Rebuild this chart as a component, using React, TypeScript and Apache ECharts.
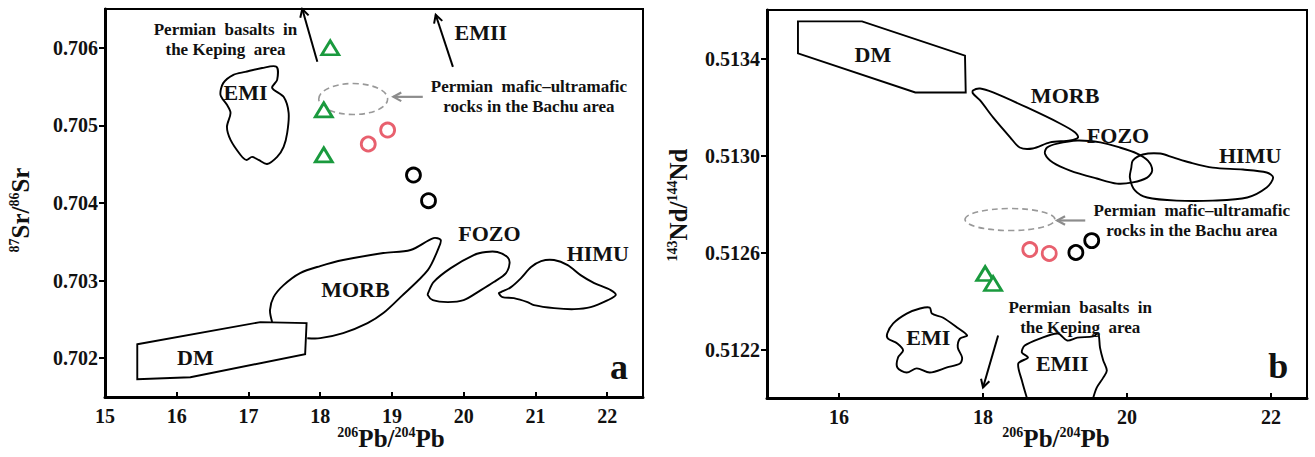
import { useEffect, useRef } from "react";
import * as echarts from "echarts";

const FONT = "'Liberation Serif', 'Times New Roman', serif";

// ---------- axes ----------
const xTicksA = [15, 16, 17, 18, 19, 20, 21, 22];
const yTicksA = [0.702, 0.703, 0.704, 0.705, 0.706];
const xTicksB = [16, 18, 20, 22];
const yTicksB = [0.5122, 0.5126, 0.513, 0.5134];

// ---------- samples (panel a: 206Pb/204Pb vs 87Sr/86Sr) ----------
const kepingA = [[18.14, 0.706], [18.05, 0.7052], [18.05, 0.70462]];
const bachuRedA = [[18.67, 0.70476], [18.94, 0.70494]];
const bachuBlackA = [[19.3, 0.70436], [19.51, 0.70403]];

// ---------- samples (panel b: 206Pb/204Pb vs 143Nd/144Nd) ----------
const kepingB = [[18.03, 0.512513], [18.14, 0.512472]];
const bachuRedB = [[18.65, 0.512612], [18.92, 0.512596]];
const bachuBlackB = [[19.29, 0.5126], [19.51, 0.512649]];

// ---------- mantle end-member fields, panel a ----------
const emiA = [[16.955, 0.70569], [17.19, 0.70574], [17.39, 0.705755], [17.4, 0.705587], [17.33, 0.705484], [17.49, 0.705368], [17.56, 0.705161], [17.54, 0.704903], [17.49, 0.704723], [17.4, 0.704594], [17.26, 0.704503], [17.14, 0.704555], [17.05, 0.704594], [16.97, 0.704555], [16.89, 0.704619], [16.75, 0.704813], [16.7, 0.704981], [16.75, 0.705161], [16.7, 0.705265], [16.61, 0.705394], [16.65, 0.705548], [16.79, 0.705652]];
const dmA = [[15.45, 0.70218], [17.165, 0.702465], [17.81, 0.702452], [17.79, 0.702052], [16.19, 0.701755], [15.45, 0.70173]];
const morbA = [[17.33, 0.702465], [17.3, 0.702619], [17.35, 0.702787], [17.49, 0.702942], [17.72, 0.703097], [18.0, 0.703187], [18.32, 0.703265], [18.88, 0.703355], [19.26, 0.703394], [19.58, 0.703548], [19.68, 0.703523], [19.65, 0.703419], [19.5, 0.703135], [19.12, 0.702787], [18.88, 0.702581], [18.66, 0.702452], [18.32, 0.702323], [18.0, 0.702258], [17.82, 0.702258]];
const fozoA = [[19.51, 0.702852], [19.58, 0.702981], [19.82, 0.703161], [20.14, 0.703329], [20.31, 0.703368], [20.47, 0.703368], [20.61, 0.703303], [20.64, 0.703226], [20.59, 0.703097], [20.42, 0.702981], [20.24, 0.702877], [20.0, 0.702748], [19.78, 0.702723], [19.57, 0.702748], [19.5, 0.702813]];
const himuA = [[20.52, 0.702852], [20.66, 0.702916], [20.8, 0.703032], [20.94, 0.703174], [21.08, 0.703252], [21.26, 0.703265], [21.45, 0.7032], [21.63, 0.703071], [21.82, 0.702968], [22.05, 0.702877], [22.12, 0.702813], [22.01, 0.702748], [21.77, 0.702658], [21.54, 0.702632], [21.26, 0.702645], [20.98, 0.702684], [20.89, 0.702723], [20.7, 0.702774], [20.54, 0.702787], [20.49, 0.702839]];

// ---------- mantle end-member fields, panel b ----------
const dmB = [[15.43, 0.513553], [16.32, 0.513553], [17.75, 0.513412], [17.76, 0.51326], [17.06, 0.51326], [15.43, 0.513421]];
const morbB = [[17.86, 0.513268], [17.96, 0.513276], [18.14, 0.51326], [18.61, 0.513198], [19.07, 0.513132], [19.28, 0.513095], [19.32, 0.513074], [19.21, 0.513062], [18.93, 0.513054], [18.69, 0.513029], [18.51, 0.513033], [18.38, 0.513074], [18.14, 0.513157], [17.96, 0.513227], [17.86, 0.513256]];
const fozoB = [[18.89, 0.513033], [19.03, 0.513049], [19.31, 0.513062], [19.63, 0.513054], [19.9, 0.513033], [20.14, 0.513008], [20.29, 0.512979], [20.35, 0.512938], [20.28, 0.512909], [20.08, 0.512889], [19.86, 0.512884], [19.58, 0.512905], [19.21, 0.512938], [18.97, 0.512971], [18.86, 0.513008]];
const himuB = [[20.08, 0.512979], [20.22, 0.513004], [20.46, 0.513008], [20.64, 0.512992], [20.875, 0.512971], [21.19, 0.51295], [21.61, 0.512942], [21.94, 0.51293], [22.03, 0.512909], [21.94, 0.512868], [21.67, 0.512827], [21.19, 0.512814], [20.69, 0.512814], [20.28, 0.512827], [20.11, 0.512856], [20.04, 0.512909], [20.06, 0.51295]];
const emiB = [[16.67, 0.512266], [16.75, 0.512307], [16.94, 0.512348], [17.125, 0.512369], [17.26, 0.512373], [17.29, 0.512348], [17.44, 0.512332], [17.64, 0.512291], [17.78, 0.512258], [17.68, 0.512245], [17.65, 0.512208], [17.71, 0.512167], [17.68, 0.512142], [17.5, 0.512126], [17.26, 0.512105], [17.08, 0.512122], [16.94, 0.512105], [16.81, 0.512126], [16.82, 0.512167], [16.89, 0.512196], [16.81, 0.512225], [16.68, 0.512245]];
const emiiB = [[18.61, 0.512], [18.54, 0.512072], [18.49, 0.512142], [18.625, 0.512167], [18.54, 0.512188], [18.58, 0.512216], [18.79, 0.512245], [19.04, 0.512266], [19.17, 0.512237], [19.31, 0.512249], [19.53, 0.512254], [19.6, 0.512266], [19.625, 0.512208], [19.67, 0.512155], [19.72, 0.512113], [19.67, 0.512084], [19.58, 0.512043], [19.53, 0.512]];

// Bachu mafic-ultramafic field (cx, cy, rx, ry)
const bachuEllipseA = [18.46, 0.70534, 0.48, 0.0002];
const bachuEllipseB = [18.375, 0.512736, 0.625, 0.0000454];

// arrows (x1, y1 tail, x2, y2 tip)
const arrowsA = [[17.96, 0.70582, 17.75, 0.7065], [19.85, 0.705755, 19.61, 0.706426]];
const grayArrowA = [[19.43, 0.705368, 19.02, 0.705368]];
const arrowsB = [[18.21, 0.512258, 18.0, 0.512043]];
const grayArrowB = [[19.42, 0.512732, 19.03, 0.512732]];

// field labels
const fieldLabelsA: [string, number, number][] = [["EMI", 16.96, 0.70543], ["DM", 16.26, 0.70201], ["MORB", 18.49, 0.70288], ["FOZO", 20.36, 0.70361], ["HIMU", 21.87, 0.703355], ["EMII", 20.24, 0.706194]];
const fieldLabelsB: [string, number, number][] = [["DM", 16.47, 0.513416], ["MORB", 19.14, 0.513247], ["FOZO", 19.875, 0.513082], ["HIMU", 21.71, 0.513], ["EMI", 17.24, 0.512249], ["EMII", 19.1, 0.512142]];
const notesA: [string, number, number][] = [["Permian  basalts  in\nthe Keping  area", 16.68, 0.706103], ["Permian  mafic\u2013ultramafic\nrocks in the Bachu area", 20.91, 0.705368]];
const notesB: [string, number, number][] = [["Permian  mafic\u2013ultramafic\nrocks in the Bachu area", 20.9, 0.512732], ["Permian  basalts  in\nthe Keping  area", 19.35, 0.512332]];
const panelTags: [string, number, number][] = [["a", 22.165, 0.701884], ["b", 22.1, 0.512134]];

function fieldSeries(pts: number[][], g: number, closed: boolean, smooth: number) {
  return {
    type: "custom",
    xAxisIndex: g,
    yAxisIndex: g,
    silent: true,
    clip: true,
    data: [pts[0]],
    renderItem: (_p: any, api: any) => {
      const points = pts.map((p) => api.coord(p));
      return {
        type: closed ? "polygon" : "polyline",
        shape: { points, smooth },
        style: { fill: "none", stroke: "#000", lineWidth: 1.9 },
      };
    },
  };
}

function ellipseSeries(e: number[], g: number) {
  return {
    type: "custom",
    xAxisIndex: g,
    yAxisIndex: g,
    silent: true,
    data: [[e[0], e[1]]],
    renderItem: (_p: any, api: any) => {
      const c = api.coord([e[0], e[1]]);
      const s = api.size([e[2], e[3]]);
      return {
        type: "ellipse",
        shape: { cx: c[0], cy: c[1], rx: s[0], ry: s[1] },
        style: { fill: "none", stroke: "#999", lineWidth: 1.6, lineDash: [6, 4] },
      };
    },
  };
}

function arrowSeries(arr: number[][], g: number, color: string, width: number) {
  return {
    type: "custom",
    xAxisIndex: g,
    yAxisIndex: g,
    silent: true,
    clip: false,
    data: arr.map((a) => [a[0], a[1]]),
    renderItem: (p: any, api: any) => {
      const a = arr[p.dataIndex];
      const t = api.coord([a[0], a[1]]);
      const h = api.coord([a[2], a[3]]);
      const ang = Math.atan2(h[1] - t[1], h[0] - t[0]);
      const L = 9;
      const w = 0.5;
      const p1 = [h[0] - L * Math.cos(ang - w), h[1] - L * Math.sin(ang - w)];
      const p2 = [h[0] - L * Math.cos(ang + w), h[1] - L * Math.sin(ang + w)];
      return {
        type: "group",
        children: [
          { type: "line", shape: { x1: t[0], y1: t[1], x2: h[0], y2: h[1] }, style: { stroke: color, lineWidth: width } },
          { type: "polyline", shape: { points: [p1, h, p2] }, style: { fill: "none", stroke: color, lineWidth: width } },
        ],
      };
    },
  };
}

function textSeries(items: [string, number, number][], g: number, size: number, lineHeight: number) {
  return {
    type: "custom",
    xAxisIndex: g,
    yAxisIndex: g,
    silent: true,
    clip: false,
    data: items.map((t) => [t[1], t[2]]),
    renderItem: (p: any, api: any) => {
      const it = items[p.dataIndex];
      const c = api.coord([it[1], it[2]]);
      return {
        type: "text",
        x: c[0],
        y: c[1],
        style: {
          text: it[0],
          fill: "#111",
          fontFamily: FONT,
          fontWeight: "bold",
          fontSize: size,
          lineHeight,
          align: "center",
          verticalAlign: "middle",
        },
      };
    },
  };
}

function scatter(data: number[][], g: number, symbol: string, color: string, size: any) {
  return {
    type: "scatter",
    xAxisIndex: g,
    yAxisIndex: g,
    symbol,
    symbolSize: size,
    data,
    z: 5,
    itemStyle: { color: "#fff", borderColor: color, borderWidth: 2.8, opacity: 1 },
  };
}

const labelStyle = { color: "#111", fontFamily: FONT, fontWeight: "bold", fontSize: 20 };

function xAxis(g: number, ticks: number[]) {
  return {
    gridIndex: g,
    type: "value",
    min: 15,
    max: 22.5,
    splitLine: { show: false },
    axisLine: { show: true, onZero: false, lineStyle: { color: "#000", width: 3 } },
    axisTick: { show: true, inside: true, length: 5, lineStyle: { color: "#000", width: 2 }, customValues: ticks },
    axisLabel: { ...labelStyle, margin: 9, customValues: ticks, formatter: (v: number) => String(v) },
  };
}

function yAxis(g: number, min: number, max: number, ticks: number[], digits: number) {
  return {
    gridIndex: g,
    type: "value",
    min,
    max,
    splitLine: { show: false },
    axisLine: { show: true, onZero: false, lineStyle: { color: "#000", width: 3 } },
    axisTick: { show: true, inside: false, length: 6, lineStyle: { color: "#000", width: 2 }, customValues: ticks },
    axisLabel: { ...labelStyle, margin: 7, customValues: ticks, formatter: (v: number) => v.toFixed(digits) },
  };
}

const sup = { fontFamily: FONT, fontWeight: "bold", fontSize: 14, fill: "#111", verticalAlign: "top", lineHeight: 26 };
const big = { fontFamily: FONT, fontWeight: "bold", fontSize: 25, fill: "#111", verticalAlign: "bottom", lineHeight: 26 };

function axisName(text: string, x: number, y: number, rot: number) {
  return {
    type: "text",
    x,
    y,
    rotation: rot,
    style: {
      text,
      rich: { s: sup, b: big },
      align: "center",
      verticalAlign: "middle",
    },
  };
}

export default function App() {
  const ref = useRef<HTMLDivElement>(null);
  useEffect(() => {
    if (!ref.current) return;
    const chart = echarts.init(ref.current, undefined, { renderer: "svg" });
    chart.setOption({
      animation: false,
      backgroundColor: "#fff",
      textStyle: { fontFamily: FONT },
      grid: [
        { left: 105, top: 9, width: 538, height: 388, show: true, borderColor: "#000", borderWidth: 2 },
        { left: 767, top: 10, width: 540, height: 388, show: true, borderColor: "#000", borderWidth: 2 },
      ],
      xAxis: [xAxis(0, xTicksA), xAxis(1, xTicksB)],
      yAxis: [yAxis(0, 0.7015, 0.7065, yTicksA, 3), yAxis(1, 0.512, 0.5136, yTicksB, 4)],
      graphic: [
        axisName("{s|206}{b|Pb/}{s|204}{b|Pb}", 391, 438, 0),
        axisName("{s|206}{b|Pb/}{s|204}{b|Pb}", 1056, 438, 0),
        axisName("{s|87}{b|Sr/}{s|86}{b|Sr}", 20, 210, Math.PI / 2),
        axisName("{s|143}{b|Nd/}{s|144}{b|Nd}", 678, 205, Math.PI / 2),
      ],
      series: [
        fieldSeries(emiA, 0, true, 0.3),
        fieldSeries(dmA, 0, true, 0),
        fieldSeries(morbA, 0, false, 0.3),
        fieldSeries(fozoA, 0, true, 0.3),
        fieldSeries(himuA, 0, true, 0.3),
        ellipseSeries(bachuEllipseA, 0),
        arrowSeries(arrowsA, 0, "#000", 2),
        arrowSeries(grayArrowA, 0, "#8c8c8c", 2.2),
        textSeries(fieldLabelsA, 0, 22, 22),
        textSeries(notesA, 0, 17, 20),
        textSeries([panelTags[0]], 0, 36, 36),
        scatter(kepingA, 0, "triangle", "#1a9a3e", [17, 14]),
        scatter(bachuRedA, 0, "circle", "#e8606e", 14),
        scatter(bachuBlackA, 0, "circle", "#000", 14),

        fieldSeries(dmB, 1, true, 0),
        fieldSeries(morbB, 1, true, 0.3),
        fieldSeries(fozoB, 1, true, 0.3),
        fieldSeries(himuB, 1, true, 0.3),
        fieldSeries(emiB, 1, true, 0.3),
        fieldSeries(emiiB, 1, false, 0.3),
        ellipseSeries(bachuEllipseB, 1),
        arrowSeries(arrowsB, 1, "#000", 2),
        arrowSeries(grayArrowB, 1, "#8c8c8c", 2.2),
        textSeries(fieldLabelsB, 1, 22, 22),
        textSeries(notesB, 1, 17, 20),
        textSeries([panelTags[1]], 1, 36, 36),
        scatter(kepingB, 1, "triangle", "#1a9a3e", [17, 14]),
        scatter(bachuRedB, 1, "circle", "#e8606e", 14),
        scatter(bachuBlackB, 1, "circle", "#000", 14),
      ],
    });
    return () => chart.dispose();
  }, []);
  return <div ref={ref} style={{ position: "fixed", left: 0, top: 0, width: 1315, height: 457 }} />;
}
